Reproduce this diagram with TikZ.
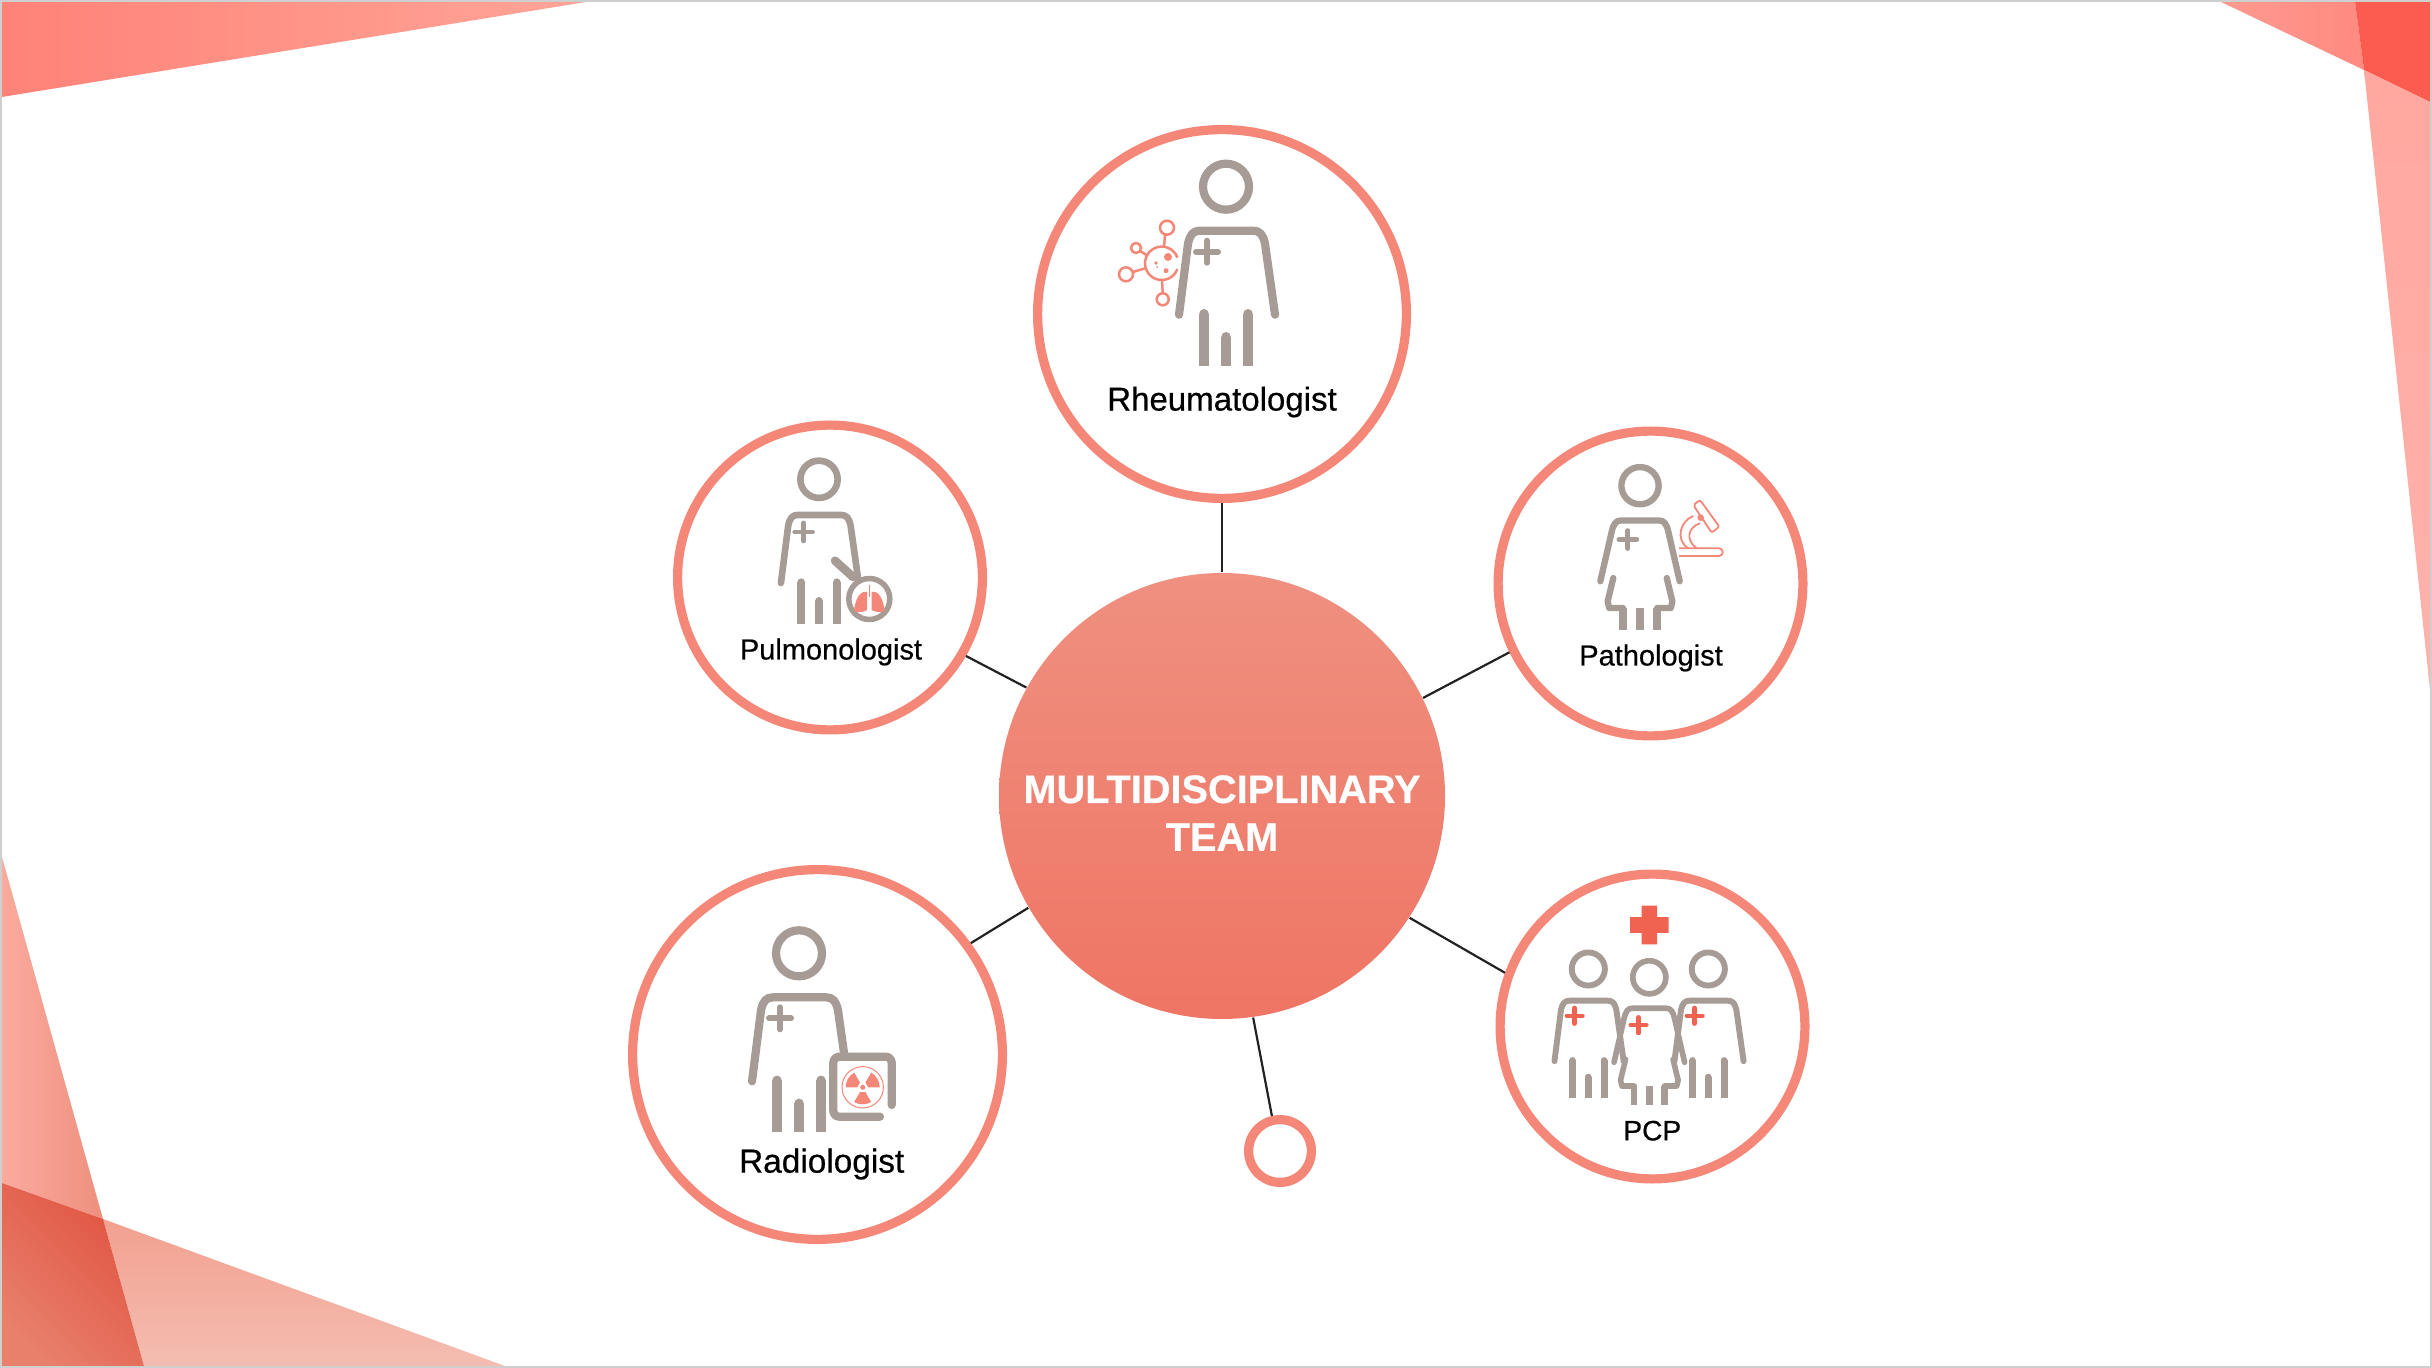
\documentclass[tikz,border=0pt]{standalone}
\usepackage{fontspec}
\usepackage{xcolor}
\setmainfont{Liberation Sans}
\newfontfamily\rolefont[FakeBold=0.5]{Liberation Sans}
\newfontfamily\teamfont[FakeBold=0.5]{Liberation Sans Bold}
\definecolor{ringcol}{HTML}{F48777}
\definecolor{figcol}{HTML}{A69B95}
\definecolor{redcol}{HTML}{EF6350}
\definecolor{linecol}{HTML}{222222}
\definecolor{edgecol}{HTML}{CFCFCF}
\definecolor{tlleft}{HTML}{FF8278}
\definecolor{tlright}{HTML}{FFA597}
\definecolor{trleft}{HTML}{FF9A90}
\definecolor{trright}{HTML}{FF8A80}
\definecolor{trdark}{HTML}{FC5B50}
\definecolor{trtop}{HTML}{FFA8A0}
\definecolor{trbot}{HTML}{FFB2AC}
\definecolor{blleft}{HTML}{FAAB9E}
\definecolor{blright}{HTML}{EF8F7E}
\definecolor{bltop}{HTML}{F2A08F}
\definecolor{blbot}{HTML}{F4BDB1}
\definecolor{bldark}{HTML}{E05340}
\definecolor{blmid}{HTML}{E8806C}
\definecolor{teamtop}{HTML}{EF9080}
\definecolor{teambot}{HTML}{EF7564}
\tikzset{
    member/.style={circle,draw=ringcol,fill=white,line width=0.92mm,inner sep=0pt},
    role/.style={text=black,inner sep=0pt},
    link/.style={linecol,line width=0.22mm},
    figure/.style={figcol,line cap=round,line join=round},
    spot/.style={ringcol,line width=0.25mm}
}
% head at (#1,#2), size #3, cross colour #4
\newcommand{\malefig}[4]{
    \begin{scope}[shift={(#1,#2)},scale=#3,figure,line width=#3*0.82mm]
        \draw (0,0) circle (23);
        \draw (-47,128) -- (-38,57) .. controls (-36,48) and (-33,44) .. (-26,44) -- (27,44) .. controls (34,44) and (37,48) .. (39,57) -- (49,128);
        \foreach \x/\t in {-22/127,0/150,22/127} {
            \draw[line cap=butt,line width=#3*0.95mm] (\x,\t) -- (\x,179);
            \fill (\x,\t) circle (4.7);
        }
        \draw[#4,line width=#3*0.6mm] (-30,65) -- (-8,65) (-19,54) -- (-19,76);
    \end{scope}
}
\newcommand{\femalefig}[4]{
    \begin{scope}[shift={(#1,#2)},scale=#3,figure,line width=#3*0.78mm]
        \draw (0,0) circle (23);
        \draw (-49,118) -- (-35,57) .. controls (-33,48) and (-30,43) .. (-24,43) -- (24,43) .. controls (30,43) and (33,48) .. (35,57) -- (49,118);
        \draw (-33,114) -- (-40,143) -- (-38,151) -- (-21,151);
        \draw (33,114) -- (40,143) -- (38,151) -- (21,151);
        \foreach \x/\t in {-21/151,0/151,21/151}
            \draw[line cap=butt,line width=#3*0.9mm] (\x,\t) -- (\x,178);
        \draw[#4,line width=#3*0.6mm] (-26,66.5) -- (-4,66.5) (-15,55.5) -- (-15,77.5);
    \end{scope}
}
\begin{document}
\begin{tikzpicture}[x=0.1mm,y=-0.1mm]
    \useasboundingbox (0,0) rectangle (2432,1368);

    %top left corner
    \shade[left color=tlleft,right color=tlright] (2,2) -- (586,2) -- (2,97) -- cycle;
    %top right corner
    \shade[left color=trleft,right color=trright] (2221,2) -- (2355,2) -- (2364,70) -- cycle;
    \fill[fill=trdark] (2355,2) -- (2430,2) -- (2430,102) -- (2364,70) -- cycle;
    \shade[top color=trtop,bottom color=trbot] (2364,70) -- (2430,102) -- (2430,690) -- cycle;
    %bottom left corner
    \shade[left color=blleft,right color=blright] (2,857) -- (103,1219) -- (2,1183) -- cycle;
    \shade[top color=bltop,bottom color=blbot] (103,1219) -- (505,1366) -- (144,1366) -- cycle;
    \shade[left color=blmid,right color=bldark,shading angle=135] (2,1183) -- (103,1219) -- (144,1366) -- (2,1366) -- cycle;
    %border
    \draw[edgecol,line width=0.2mm] (1,1) rectangle (2431,1367);

    %team
    \node[circle,inner sep=0pt,minimum size=44.6mm,top color=teamtop,bottom color=teambot] (team) at (1222,796) {};
    \node[text=white,align=center,font=\fontsize{11.3}{13.6}\selectfont\teamfont] (teamtext) at (1222,813) {MULTIDISCIPLINARY\\TEAM};

    %members
    \node[member,minimum size=36.88mm] (rheum) at (1222,314) {};
    \node[member,minimum size=30.48mm] (pulmo) at (830,577.5) {};
    \node[member,minimum size=30.48mm] (patho) at (1650.5,583.5) {};
    \node[member,minimum size=36.98mm] (radio) at (817.5,1054.5) {};
    \node[member,minimum size=30.48mm] (pcp) at (1652.5,1026.5) {};
    \node[member,minimum size=6.28mm] (spare) at (1280,1151) {};

    %links
    \draw[link] (team.north) -- (rheum.south);
    \draw[link] (team.151.5) -- (pulmo.-30);
    \draw[link] (team.26) -- (patho.206.5);
    \draw[link] (team.210.8) -- (radio.36.4);
    \draw[link] (team.-33.4) -- (pcp.160);
    \draw[link] (team.-82.8) -- (spare.103);

    %Rheumatologist
    \malefig{1226}{186.7}{1}{figcol}
    \draw[spot] (1161.7,263.3) ++(20:16.7) arc[start angle=20,end angle=340,radius=16.7];
    \foreach \x/\y/\r in {1167/227.7/7,1136/248/5,1126/274.3/7,1162.7/299.3/6}
        \draw[spot] (\x,\y) circle (\r);
    \draw[spot] (1165,234.7) -- (1164,247) (1140,251) -- (1148,256) (1133,272) -- (1146,268) (1162.7,293.3) -- (1162,280);
    \foreach \x/\y/\r in {1168/257/4,1156/263/1.8,1166/270.7/2.5,1157/267/1}
        \fill[ringcol] (\x,\y) circle (\r);
    \node[role,font=\fontsize{9.4}{11}\selectfont\rolefont] (rheumtext) at (1222,402) {Rheumatologist};

    %Pulmonologist
    \malefig{819}{479.3}{0.81}{figcol}
    \draw[figure,line width=0.85mm] (835,560.7) -- (853,577);
    \draw[figure,line width=0.55mm,fill=white] (869.3,599) circle (20.5);
    \fill[ringcol] (867,592) .. controls (860,590) and (855,600) .. (854,611) .. controls (858,613) and (864,612) .. (867,610) -- cycle;
    \fill[ringcol] (871.6,592) .. controls (878.6,590) and (883.6,600) .. (884.6,611) .. controls (880.6,613) and (874.6,612) .. (871.6,610) -- cycle;
    \draw[ringcol,line width=0.15mm] (869.3,585) -- (869.3,597);
    \node[role,font=\fontsize{8.25}{10}\selectfont\rolefont] (pulmotext) at (831,652) {Pulmonologist};

    %Pathologist
    \femalefig{1640}{485.7}{0.81}{figcol}
    \begin{scope}[ringcol,line width=0.18mm,line join=round]
        \draw (1679,548.3) -- (1719,548.3) .. controls (1724,548.3) and (1724,556) .. (1719,556) -- (1679,556);
        \draw[rounded corners=0.2mm] (1693.3,505) -- (1700,500) -- (1719.3,526.7) -- (1711.7,532.7) -- cycle;
        \draw (1693.3,516) .. controls (1680,521) and (1675,540) .. (1688.3,548.3);
        \draw (1700,523.3) .. controls (1688,527) and (1685,540) .. (1696.7,548.3);
        \fill (1700.7,517.7) circle (3.3);
    \end{scope}
    \node[role,font=\fontsize{8.25}{10}\selectfont\rolefont] (pathotext) at (1651,658) {Pathologist};

    %Radiologist
    \malefig{799}{953.3}{1}{figcol}
    \fill[white] (833.3,1056.7) rectangle (891.7,1116.7);
    \draw[figure,line width=0.82mm,rounded corners=0.6mm] (891.7,1105) -- (891.7,1056.7) -- (833.3,1056.7) -- (833.3,1116.7) -- (880,1116.7);
    \begin{scope}[shift={(862.7,1087.3)}]
        \draw[ringcol,line width=0.1mm] (0,0) circle (20.7);
        \fill[ringcol] (0,0) circle (2.5);
        \foreach \a in {90,210,330}
            \fill[ringcol] (\a-30:5.5) -- (\a-30:17) arc[start angle=\a-30,end angle=\a+30,radius=17] -- (\a+30:5.5) -- cycle;
    \end{scope}
    \node[role,font=\fontsize{9.5}{11}\selectfont\rolefont] (radiotext) at (821.7,1164) {Radiologist};

    %PCP
    \malefig{1588.3}{969}{0.72}{redcol}
    \malefig{1708.3}{969}{0.72}{redcol}
    \femalefig{1649.3}{977.3}{0.72}{redcol}
    \fill[redcol] (1630,917.2) rectangle (1668.6,932.8) (1641.5,905.7) rectangle (1657.1,944.3);
    \node[role,font=\fontsize{8}{10}\selectfont\rolefont] (pcptext) at (1652.3,1130.7) {PCP};
\end{tikzpicture}
\end{document}
